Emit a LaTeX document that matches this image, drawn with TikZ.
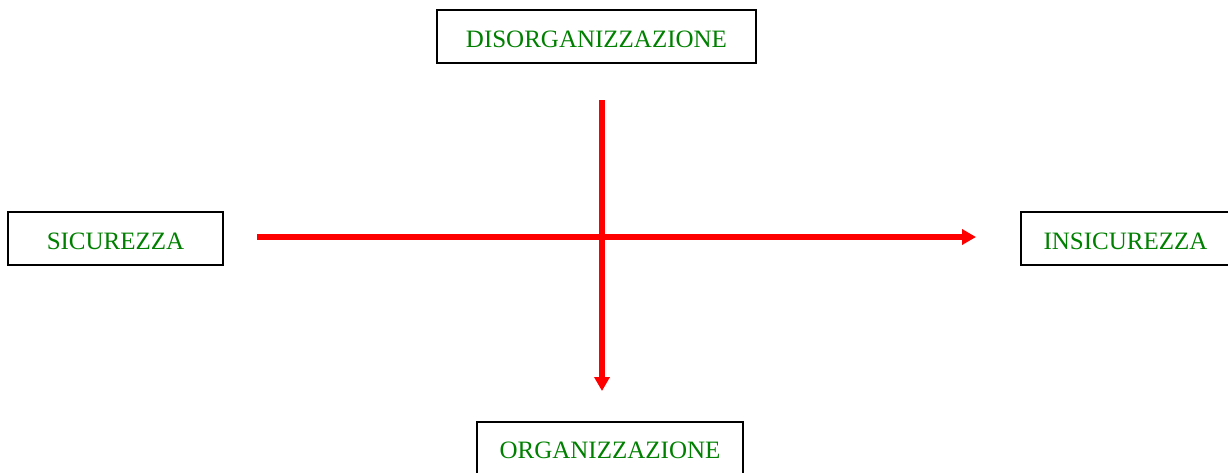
\documentclass[tikz,border=0pt]{standalone}
\usepackage{fontspec}
\setmainfont{Liberation Serif}
\usetikzlibrary{arrows.meta}
\definecolor{txtgreen}{RGB}{0,128,0}
\definecolor{arrred}{RGB}{255,0,0}
\tikzset{
  lbox/.style={draw=black, line width=2pt, inner sep=0pt, text=txtgreen,
    font=\fontsize{25}{30}\selectfont, text height=37pt, text depth=16pt, align=center},
  axisarrow/.style={draw=arrred, line width=6pt,
    -{Triangle[length=14pt,width=15pt]}}
}
\begin{document}
\begin{tikzpicture}[x=1pt,y=-1pt]
  \useasboundingbox (0,0) rectangle (1228,472);
  \clip (0,0) rectangle (1228,472);
  \node[lbox, minimum width=319pt] (dis) at (596.5,36.5) {DISORGANIZZAZIONE};
  \node[lbox, minimum width=215pt] (sic) at (115.5,238.5) {SICUREZZA};
  \node[lbox, minimum width=209pt] (ins) at (1125.5,238.5) {INSICUREZZA};
  \node[lbox, minimum width=266pt] (org) at (610,448) {ORGANIZZAZIONE};
  \coordinate (hs) at (257,237);
  \coordinate (he) at (976,237);
  \coordinate (vs) at (602,100);
  \coordinate (ve) at (602,391);
  \draw[axisarrow] (hs) -- (he);
  \draw[axisarrow] (vs) -- (ve);
\end{tikzpicture}
\end{document}
